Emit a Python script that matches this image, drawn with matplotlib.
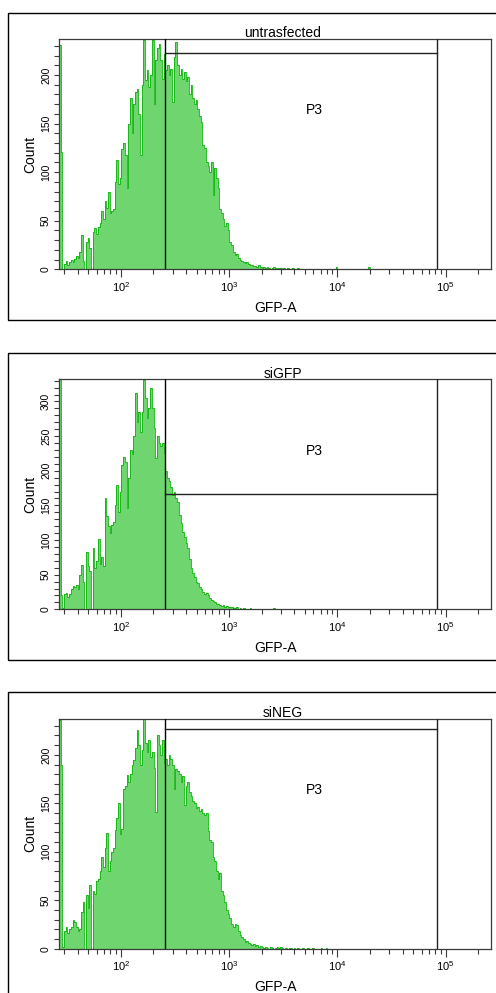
import numpy as np
import matplotlib
matplotlib.use("Agg")
import matplotlib.pyplot as plt
from matplotlib.patches import Rectangle
from matplotlib.ticker import LogLocator, MultipleLocator, FuncFormatter, NullFormatter
import matplotlib.transforms as mtransforms

plt.rcParams['font.family'] = ['Liberation Sans', 'DejaVu Sans']
plt.rcParams['mathtext.fontset'] = 'custom'
plt.rcParams['mathtext.rm'] = 'Liberation Sans'
plt.rcParams['mathtext.it'] = 'Liberation Sans:italic'
plt.rcParams['mathtext.bf'] = 'Liberation Sans:bold'

# ---------------- data ----------------
titles = ['untrasfected', 'siGFP', 'siNEG']
gate_label = 'P3'
x_label = 'GFP-A'
y_label = 'Count'
x_range = (26.8, 262144)
n_bins = 256
y_max = [237, 332, 237]
gate_x = (254, 82600)
gate_y = [223, 166, 227]

counts_untrasfected = [
    231, 121, 0, 5, 9, 4, 8, 10, 7, 11,
    14, 12, 18, 35, 9, 0, 28, 32, 22, 0,
    38, 42, 36, 44, 48, 60, 52, 70, 63, 80,
    58, 60, 62, 90, 112, 88, 94, 124, 130, 118,
    84, 150, 176, 140, 170, 182, 186, 160, 118, 190,
    236, 195, 205, 188, 200, 236, 170, 215, 228, 232,
    215, 196, 222, 205, 210, 200, 206, 172, 218, 234,
    210, 200, 206, 196, 203, 194, 198, 180, 190, 176,
    170, 174, 165, 158, 152, 128, 125, 110, 106, 100,
    110, 76, 104, 94, 84, 62, 58, 52, 45, 48,
    40, 28, 25, 18, 15, 16, 12, 10, 9, 8,
    6, 7, 5, 4, 4, 3, 3, 2, 4, 2,
    1, 2, 1, 2, 1, 0, 1, 2, 1, 0,
    1, 1, 0, 1, 0, 1, 0, 0, 1, 0,
    0, 1, 0, 0, 0, 0, 0, 0, 0, 0,
    0, 0, 0, 0, 0, 0, 0, 0, 0, 0,
    0, 0, 0, 0, 2, 0, 0, 0, 0, 0,
    0, 0, 0, 0, 0, 0, 0, 0, 0, 0,
    0, 0, 0, 2, 0, 0, 0, 0, 0, 0,
]

counts_sigfp = [
    335, 20, 2, 22, 24, 18, 22, 30, 34, 32,
    35, 30, 50, 64, 40, 0, 83, 62, 55, 0,
    88, 60, 70, 102, 66, 75, 62, 160, 135, 120,
    110, 122, 126, 150, 180, 140, 170, 208, 220, 212,
    146, 190, 230, 224, 250, 312, 270, 285, 256, 285,
    331, 305, 276, 290, 319, 290, 262, 218, 250, 240,
    236, 240, 225, 200, 190, 185, 176, 165, 170, 160,
    155, 136, 125, 112, 104, 96, 88, 72, 60, 52,
    46, 40, 38, 32, 30, 25, 22, 24, 20, 16,
    14, 12, 10, 8, 7, 6, 5, 6, 4, 5,
    3, 3, 4, 2, 2, 3, 1, 2, 1, 2,
    1, 0, 1, 2, 0, 1, 0, 1, 0, 1,
    0, 1, 0, 0, 1, 0, 0, 2, 0, 0,
    0, 1, 0, 0, 0, 1, 0, 0, 0, 0,
    0, 0, 0, 0, 0, 0, 0, 0, 0, 0,
    1, 0, 0, 0, 0, 0, 0, 0, 0, 0,
    0, 0, 0, 0, 1, 0, 0, 0, 0, 0,
    0, 0, 0, 0, 0, 0, 0, 0, 1, 0,
    0, 0, 0, 0, 0, 0, 0, 0, 0, 0,
    0, 0, 0, 0, 0, 0, 0, 0, 0, 0,
    0, 0, 1, 0, 0, 0, 0, 0, 0, 0,
]

counts_sineg = [
    236, 190, 2, 18, 22, 16, 20, 22, 30, 28,
    22, 18, 20, 38, 48, 0, 55, 42, 66, 0,
    60, 56, 70, 72, 80, 95, 84, 104, 119, 80,
    90, 100, 104, 122, 135, 150, 118, 124, 165, 168,
    179, 172, 180, 190, 195, 207, 226, 210, 190, 205,
    237, 212, 203, 215, 198, 203, 186, 141, 220, 210,
    200, 215, 192, 196, 190, 200, 196, 190, 165, 185,
    183, 180, 172, 178, 148, 168, 172, 162, 158, 152,
    150, 145, 146, 142, 144, 140, 138, 140, 121, 112,
    110, 95, 90, 80, 72, 78, 60, 55, 48, 40,
    36, 32, 26, 22, 26, 24, 18, 14, 12, 10,
    7, 8, 6, 5, 4, 5, 3, 4, 2, 3,
    2, 1, 2, 1, 0, 2, 1, 0, 1, 2,
    1, 2, 1, 0, 1, 0, 1, 1, 0, 1,
    0, 1, 0, 0, 1, 0, 0, 1, 0, 0,
    1, 0, 0, 0, 0, 1, 0, 0, 1, 0,
]

all_counts = [counts_untrasfected, counts_sigfp, counts_sineg]

# ---------------- style ----------------
W, H = 496, 993
fill_color = '#6fd66f'
line_color = '#08b408'
spine_color = '#3a3a3a'

fig = plt.figure(figsize=(W / 100, H / 100), dpi=100)
fig.patch.set_facecolor('white')

ax_left, ax_right = 59, 491
ax_tops = [39, 379.3, 719]
ax_bots = [269.3, 609.3, 948.7]
frame_tops = [13, 352.7, 692.3]
frame_bots = [320, 660, 999]
frame_left = 8.3

edges = np.geomspace(x_range[0], x_range[1], n_bins + 1)


def log_fmt(v, pos):
    k = int(round(np.log10(v)))
    return r'$\mathregular{10^{%d}}$' % k


for p in range(3):
    # outer frame
    fig.add_artist(Rectangle((frame_left / W, 1 - frame_bots[p] / H),
                             (W + 20 - frame_left) / W,
                             (frame_bots[p] - frame_tops[p]) / H,
                             transform=fig.transFigure, fill=False,
                             ec='black', lw=1.0, clip_on=False))

    ax = fig.add_axes([ax_left / W, 1 - ax_bots[p] / H,
                       (ax_right - ax_left) / W,
                       (ax_bots[p] - ax_tops[p]) / H])
    c = np.array(all_counts[p], dtype=float)
    e = edges[:len(c) + 1]
    ax.stairs(c, e, fill=True, color=fill_color, lw=0, zorder=1)
    ax.stairs(c, e, color=line_color, lw=0.6, zorder=2)

    ax.set_xscale('log')
    ax.set_xlim(*x_range)
    ax.set_ylim(0, y_max[p])

    # gate
    ax.axvline(gate_x[0], color='black', lw=1.0, zorder=3)
    ax.axvline(gate_x[1], color='#222222', lw=1.0, zorder=3)
    ax.plot([gate_x[0], gate_x[1]], [gate_y[p], gate_y[p]], color='#222222',
            lw=1.0, zorder=3)
    ax.text(0.591, 0.69, gate_label, transform=ax.transAxes, ha='center',
            va='center', fontsize=10, color='black')

    for s in ax.spines.values():
        s.set_color(spine_color)
        s.set_linewidth(0.9)

    ax.xaxis.set_major_locator(LogLocator(base=10, numticks=12))
    ax.xaxis.set_minor_locator(LogLocator(base=10, subs=np.arange(2, 10),
                                          numticks=12))
    ax.xaxis.set_major_formatter(FuncFormatter(log_fmt))
    ax.xaxis.set_minor_formatter(NullFormatter())
    ax.yaxis.set_major_locator(MultipleLocator(50))
    ax.yaxis.set_minor_locator(MultipleLocator(10))

    ax.tick_params(axis='x', which='major', direction='out', length=6.0,
                   width=0.8, color=spine_color, labelsize=8, pad=1.5)
    ax.tick_params(axis='x', which='minor', direction='out', length=3.6,
                   width=0.8, color=spine_color)
    ax.tick_params(axis='y', which='both', direction='out', length=3.8,
                   width=0.8, color=spine_color, labelsize=7.5, pad=2.0)
    for lab in ax.get_yticklabels():
        lab.set_rotation(90)
        lab.set_va('center')

    # title
    tr_title = mtransforms.offset_copy(ax.transAxes, fig=fig, x=0, y=1.7,
                                       units='dots')
    ax.text(0.5175, 1.0, titles[p], transform=tr_title, ha='center',
            va='baseline', fontsize=10)
    # x label
    tr_xl = mtransforms.offset_copy(ax.transAxes, fig=fig, x=0, y=-42.4,
                                    units='dots')
    ax.text(0.501, 0.0, x_label, transform=tr_xl, ha='center',
            va='baseline', fontsize=10)
    # y label
    tr_yl = mtransforms.offset_copy(ax.transAxes, fig=fig, x=-29, y=0,
                                    units='dots')
    ax.text(0.0, 0.5, y_label, transform=tr_yl, ha='center', va='center',
            rotation=90, fontsize=10)

fig.savefig('out.png', dpi=100, facecolor='white')
